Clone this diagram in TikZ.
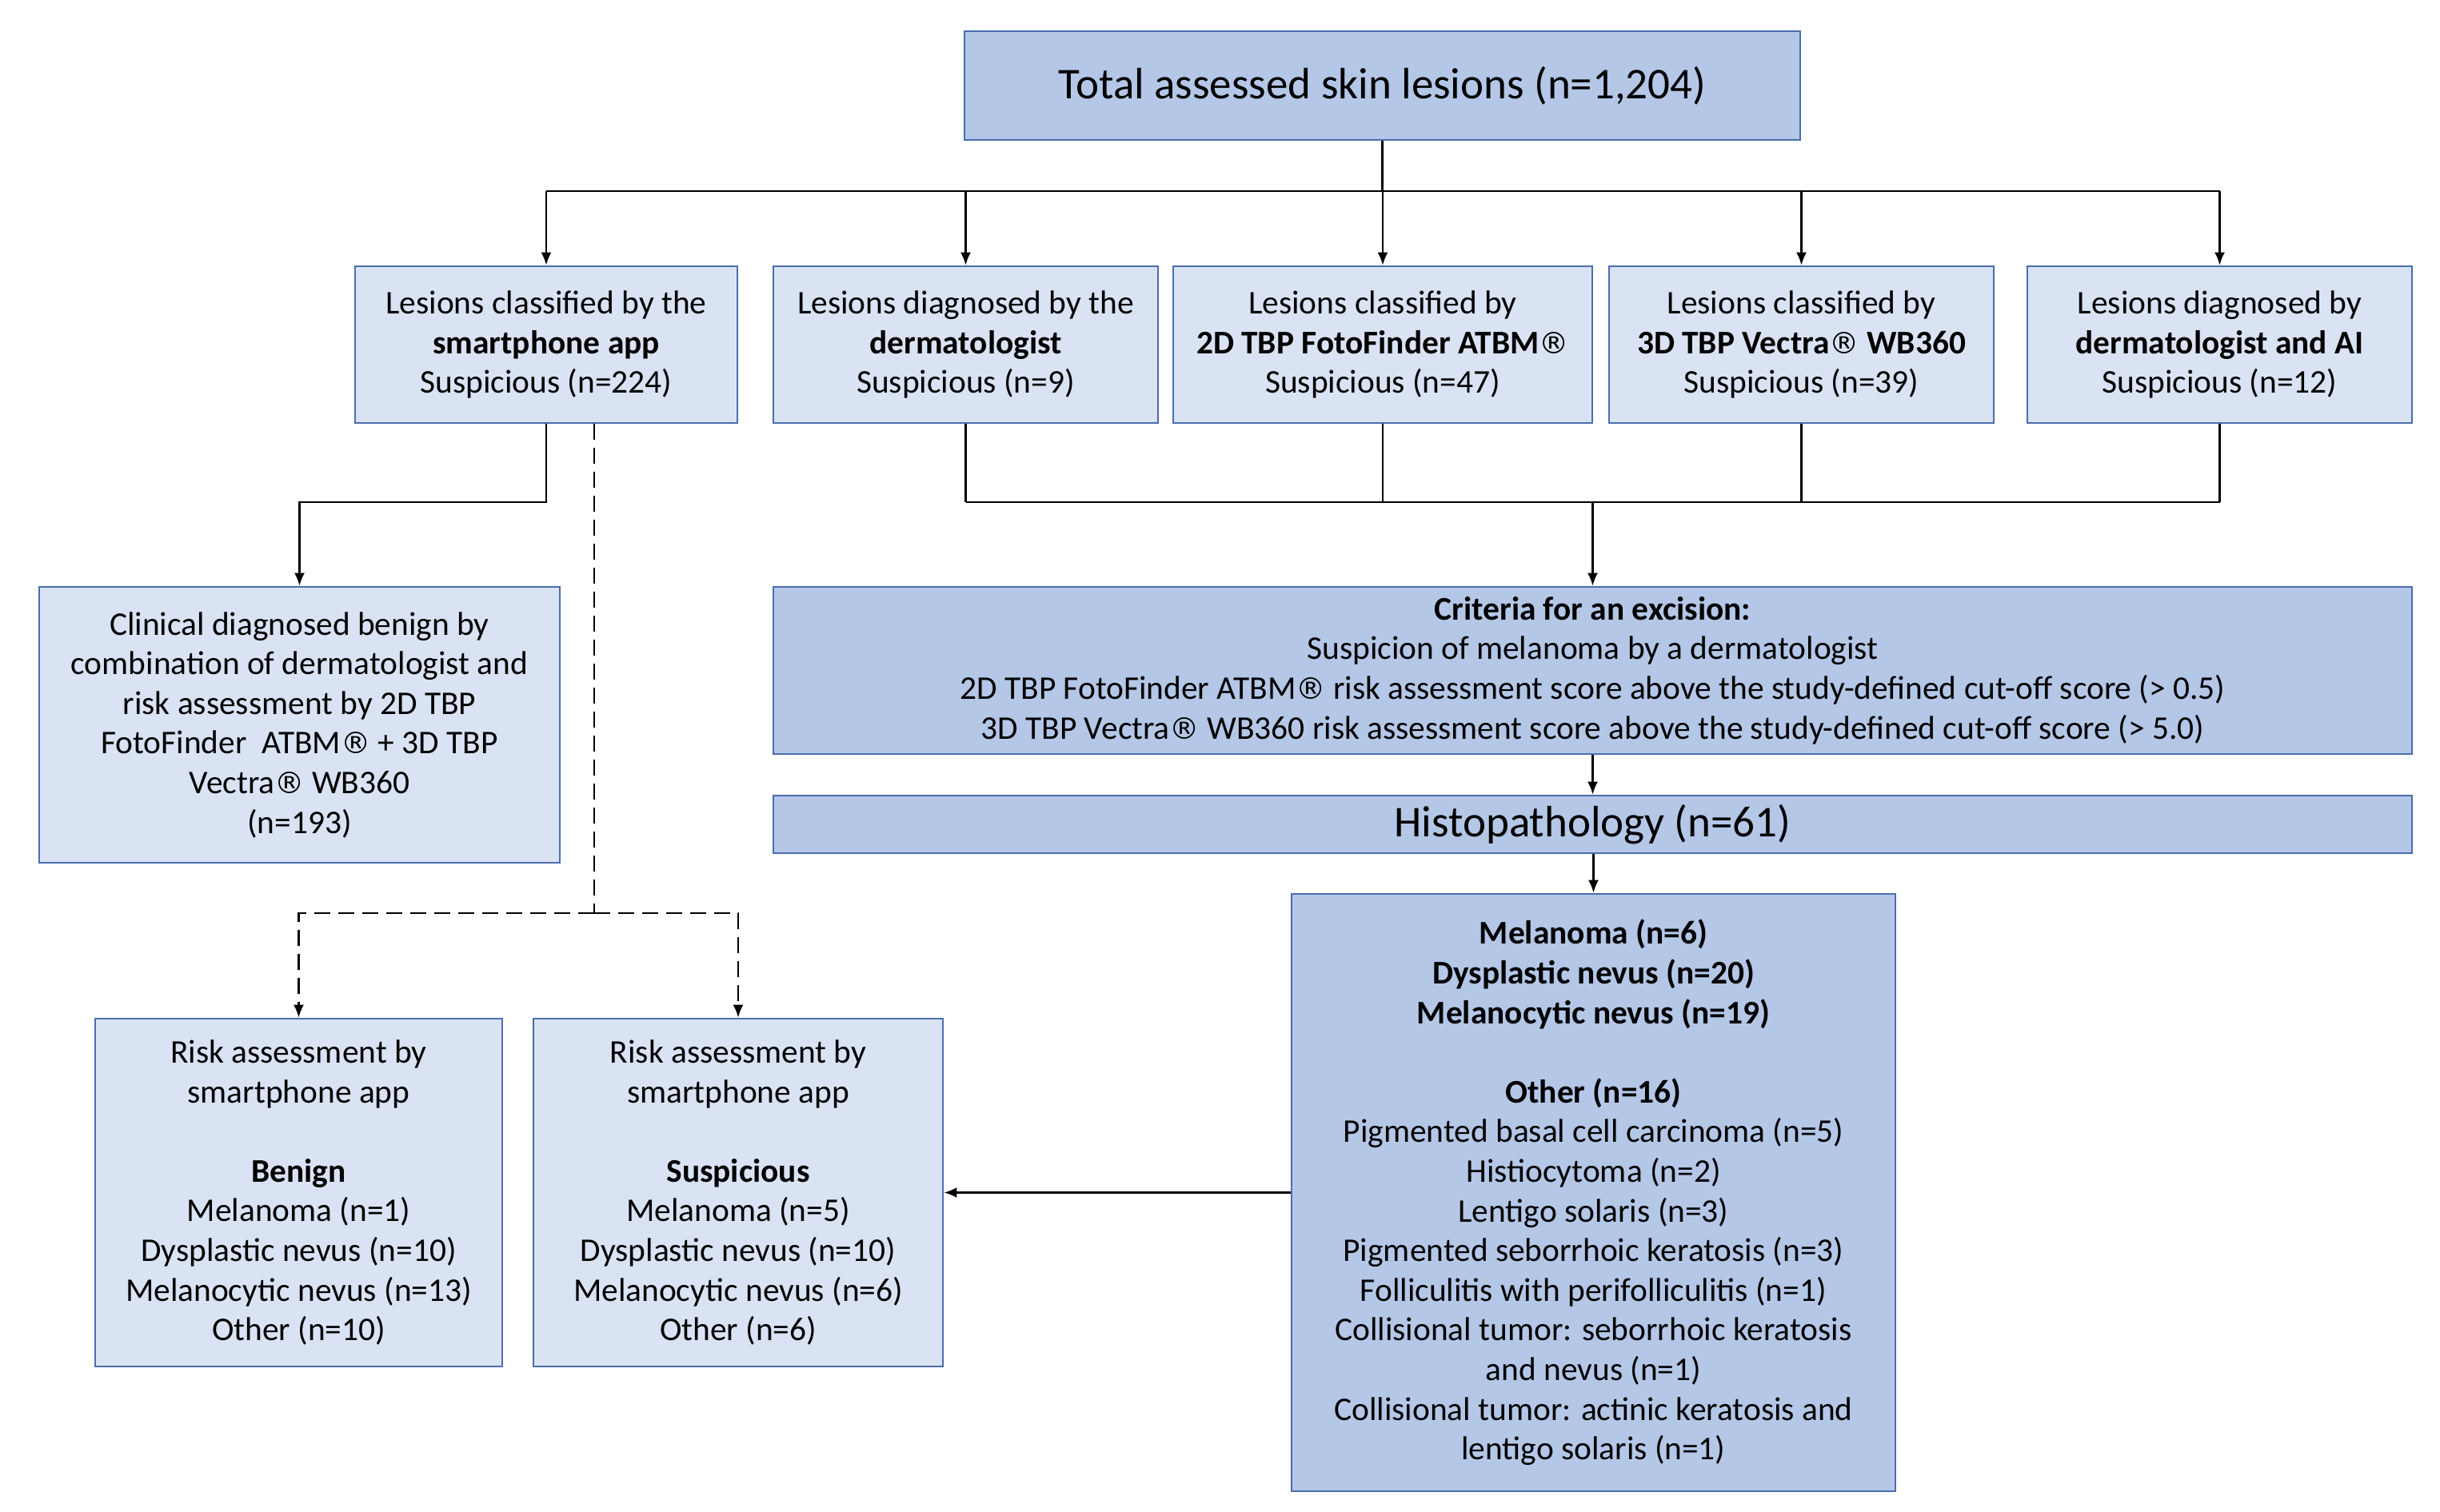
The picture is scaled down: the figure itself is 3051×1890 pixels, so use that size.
\documentclass[tikz,border=0pt]{standalone}
\usepackage{fontspec}
\setmainfont{Carlito}
\newfontfamily\symfont{DejaVu Sans}[Scale=0.9]
\newcommand\regm{{\symfont\mdseries ®}}
\usetikzlibrary{arrows.meta}
\definecolor{bdr}{HTML}{4A6EAD}
\definecolor{darkfill}{HTML}{B4C7E7}
\definecolor{lightfill}{HTML}{DAE3F3}
\begin{document}
\begin{tikzpicture}[x=0.5pt,y=-0.5pt,
  box/.style={draw=bdr,line width=1.4pt,align=center,inner sep=2pt,
    font=\fontsize{20.7}{24.8}\selectfont},
  dbox/.style={box,fill=darkfill},
  lbox/.style={box,fill=lightfill},
  conn/.style={line width=1.1pt,black},
  arr/.style={conn,-{Latex[length=8pt,width=6.5pt]}},
  dasharr/.style={arr,dash pattern=on 10pt off 5pt}]
\useasboundingbox (0,0) rectangle (3051,1890);
% nodes
\node[dbox,minimum width=522.5pt,minimum height=68pt,font=\fontsize{27.5}{33}\selectfont] (top) at (1728.5,107) {Total assessed skin lesions (n=1,204)};
\node[lbox,minimum width=239pt,minimum height=98pt] (r1) at (683,431) {Lesions classified by the\\\textbf{smartphone app}\\Suspicious (n=224)};
\node[lbox,minimum width=240.5pt,minimum height=98pt] (r2) at (1207.5,431) {Lesions diagnosed by the\\\textbf{dermatologist}\\Suspicious (n=9)};
\node[lbox,minimum width=262pt,minimum height=98pt] (r3) at (1729,431) {Lesions classified by\\\textbf{2D TBP FotoFinder ATBM\regm}\\Suspicious (n=47)};
\node[lbox,minimum width=240.5pt,minimum height=98pt] (r4) at (2252.5,431) {Lesions classified by\\\textbf{3D TBP Vectra\regm\ WB360}\\Suspicious (n=39)};
\node[lbox,minimum width=240.5pt,minimum height=98pt] (r5) at (2775.5,431) {Lesions diagnosed by\\\textbf{dermatologist and AI}\\Suspicious (n=12)};
\node[lbox,minimum width=325.5pt,minimum height=172.5pt] (clin) at (374.5,906.5) {Clinical diagnosed benign by\\combination of dermatologist and\\risk assessment by 2D TBP\\FotoFinder\ \ ATBM\regm\ + 3D TBP\\Vectra\regm\ WB360\\(n=193)};
\node[dbox,minimum width=1024.5pt,minimum height=104.5pt] (crit) at (1991.5,838.5) {\textbf{Criteria for an excision:}\\Suspicion of melanoma by a dermatologist\\2D TBP FotoFinder ATBM\regm\ risk assessment score above the study-defined cut-off score (> 0.5)\\3D TBP Vectra\regm\ WB360 risk assessment score above the study-defined cut-off score (> 5.0)};
\node[dbox,minimum width=1024.5pt,minimum height=36pt,font=\fontsize{27.5}{33}\selectfont] (histo) at (1991.5,1031) {Histopathology (n=61)};
\node[dbox,minimum width=377.5pt,minimum height=373.5pt] (res) at (1992.5,1491.5) {\textbf{Melanoma (n=6)}\\\textbf{Dysplastic nevus (n=20)}\\\textbf{Melanocytic nevus (n=19)}\\[24.8pt]\textbf{Other (n=16)}\\Pigmented basal cell carcinoma (n=5)\\Histiocytoma (n=2)\\Lentigo solaris (n=3)\\Pigmented seborrhoic keratosis (n=3)\\Folliculitis with perifolliculitis (n=1)\\Collisional tumor: seborrhoic keratosis\\and nevus (n=1)\\Collisional tumor: actinic keratosis and\\lentigo solaris (n=1)};
\node[lbox,minimum width=254.5pt,minimum height=217.5pt] (ben) at (373.5,1491.5) {Risk assessment by\\smartphone app\\[24.8pt]\textbf{Benign}\\Melanoma (n=1)\\Dysplastic nevus (n=10)\\Melanocytic nevus (n=13)\\Other (n=10)};
\node[lbox,minimum width=256pt,minimum height=217.5pt] (sus) at (923,1491.5) {Risk assessment by\\smartphone app\\[24.8pt]\textbf{Suspicious}\\Melanoma (n=5)\\Dysplastic nevus (n=10)\\Melanocytic nevus (n=6)\\Other (n=6)};
% coordinates
\coordinate (busA) at (1728.5,239);
\coordinate (busB) at (1991.5,628);
\coordinate (bendL) at (683,628);
\coordinate (dj) at (743,1142);
% top bus
\draw[conn] (top.south) -- (busA);
\draw[conn] (r1.north |- busA) -- (r5.north |- busA);
\foreach \n in {r1,r2,r3,r4,r5} \draw[arr] (\n.north |- busA) -- (\n.north);
% smartphone branch
\draw[arr] (r1.south) -- (bendL) -| (clin.north);
\draw[conn,dash pattern=on 10pt off 5pt] (dj |- r1.south) -- (dj);
\draw[dasharr] (dj) -| (ben.north);
\draw[dasharr] (dj) -| (sus.north);
% bottom bus
\foreach \n in {r2,r3,r4,r5} \draw[conn] (\n.south) -- (\n.south |- busB);
\draw[conn] (r2.south |- busB) -- (r5.south |- busB);
\draw[arr] (busB) -- (crit.north);
\draw[arr] (crit.south) -- (histo.north);
\draw[arr] (histo.south -| res.north) -- (res.north);
\draw[arr] (res.west) -- (sus.east);
\end{tikzpicture}
\end{document}
